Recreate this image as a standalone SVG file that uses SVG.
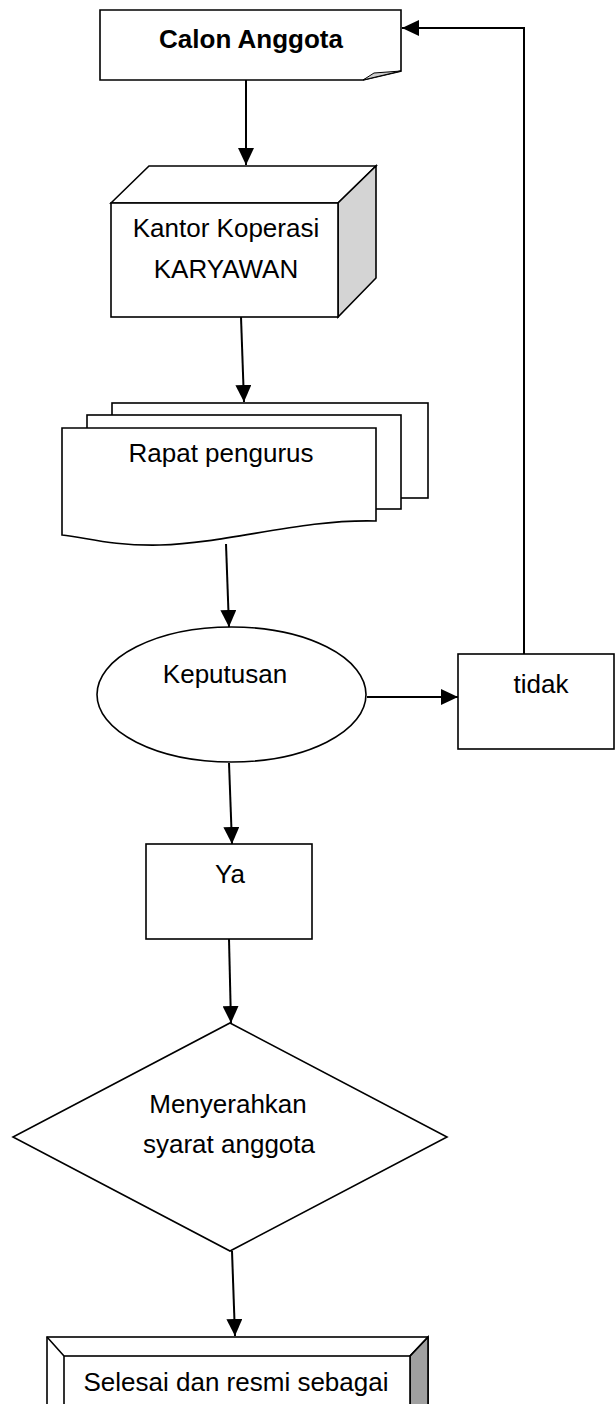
<svg xmlns="http://www.w3.org/2000/svg" width="615" height="1404" viewBox="0 0 615 1404">
<style>
.s{fill:#fff;stroke:#000;stroke-width:1.6}
.t{font-family:"Liberation Sans",Arial,sans-serif;font-size:26px;fill:#000;text-anchor:middle}
.c{fill:none;stroke:#000;stroke-width:2}
</style>
<defs>
<marker id="a" viewBox="0 0 17 16" refX="17" refY="8" markerWidth="17" markerHeight="16" markerUnits="userSpaceOnUse" orient="auto">
<path d="M0,0 L17,8 L0,16 Z" fill="#000"/>
</marker>
</defs>
<rect width="615" height="1404" fill="#fff"/>
<g id="calon">
<path class="s" d="M100,10 H401 V71 L363,80 H100 Z"/>
<path d="M363,80 L374,73 L401,71 Z" fill="#cdcdcd" stroke="#000" stroke-width="1"/>
<text class="t" x="251" y="48" font-weight="bold" font-size="24.5">Calon Anggota</text>
</g>
<g id="kantor">
<path class="s" d="M111,203 L149,166 H376 L338,203 Z"/>
<path d="M338,203 L376,166 V278 L338,317 Z" fill="#d4d4d4" stroke="#000" stroke-width="1.6"/>
<rect class="s" x="111" y="203" width="227" height="114"/>
<text class="t" x="226" y="237">Kantor Koperasi</text>
<text class="t" x="226" y="278">KARYAWAN</text>
</g>
<g id="rapat">
<rect class="s" x="112" y="403" width="316" height="95"/>
<rect class="s" x="87" y="415" width="314" height="94"/>
<path class="s" d="M62,428 H376 V521 C300,519 230,543 160,545 C110,546 85,537 62,535 Z"/>
<text class="t" x="221" y="462">Rapat pengurus</text>
</g>
<g id="keputusan">
<ellipse class="s" cx="231.5" cy="694.5" rx="134.5" ry="67.5"/>
<text class="t" x="225" y="683">Keputusan</text>
</g>
<g id="tidak">
<rect class="s" x="458" y="654" width="156" height="95"/>
<text class="t" x="541" y="693">tidak</text>
</g>
<g id="ya">
<rect class="s" x="146" y="844" width="166" height="95"/>
<text class="t" x="230" y="883">Ya</text>
</g>
<g id="menyerahkan">
<path class="s" d="M230,1023 L447,1137 L230,1251 L13,1137 Z"/>
<text class="t" x="228" y="1113">Menyerahkan</text>
<text class="t" x="229" y="1153">syarat anggota</text>
</g>
<g id="selesai">
<rect class="s" x="47" y="1337" width="381" height="80"/>
<path d="M410,1356 L428,1337 V1417 H410 Z" fill="#a0a0a0" stroke="#000" stroke-width="1.6"/>
<path class="s" d="M47,1337 L64,1356 M428,1337 L410,1356"/>
<rect class="s" x="64" y="1356" width="346" height="60"/>
<text class="t" x="236" y="1391">Selesai dan resmi sebagai</text>
</g>
<g id="connectors">
<path class="c" d="M246,80 L246,165" marker-end="url(#a)"/>
<path class="c" d="M241,317 L244,402" marker-end="url(#a)"/>
<path class="c" d="M226,544 L229,627" marker-end="url(#a)"/>
<path class="c" d="M367,697 L458,697" marker-end="url(#a)"/>
<path class="c" d="M524,654 V28 H402" marker-end="url(#a)"/>
<path class="c" d="M229,763 L232,844" marker-end="url(#a)"/>
<path class="c" d="M229,939 L231,1023" marker-end="url(#a)"/>
<path class="c" d="M232,1251 L235,1336" marker-end="url(#a)"/>
</g>
</svg>
